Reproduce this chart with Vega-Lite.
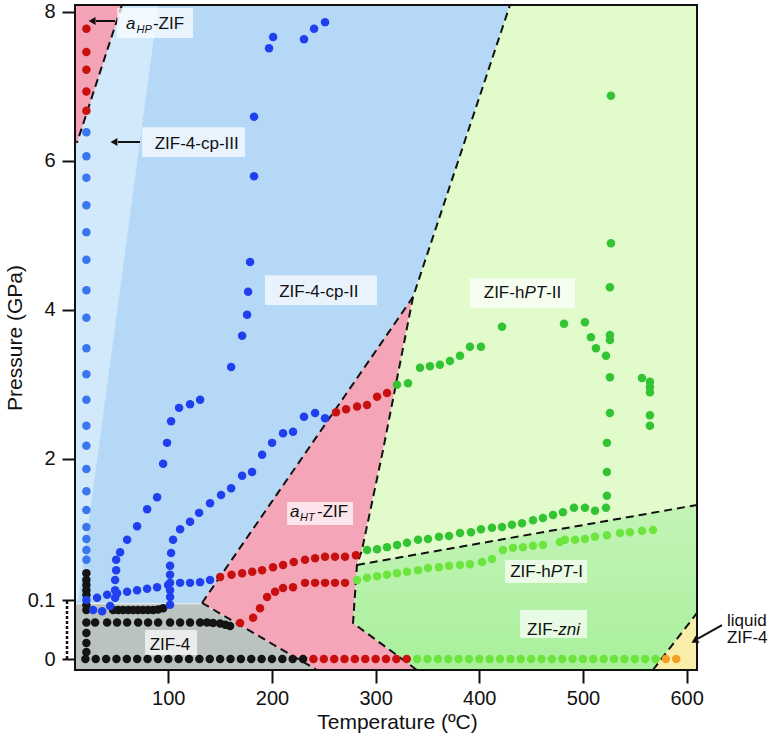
{
  "$schema": "https://vega.github.io/schema/vega-lite/v6.json",
  "width": 622,
  "height": 665,
  "autosize": "none",
  "padding": {"left": 75, "top": 5, "right": 77, "bottom": 71},
  "config": {"view": {"stroke": null}, "font": "Liberation Sans"},
  "datasets": {
    "poly": [
      {"r": "blue", "i": 0, "T": 10, "P": 8.09}, {"r": "blue", "i": 1, "T": 429.6, "P": 8.09}, {"r": "blue", "i": 2, "T": 336.1, "P": 4.17}, {"r": "blue", "i": 3, "T": 132.5, "P": 0.095}, {"r": "blue", "i": 4, "T": 10, "P": 0.095},
      {"r": "strip", "i": 0, "T": 10, "P": 8.09}, {"r": "strip", "i": 1, "T": 90.1, "P": 8.09}, {"r": "strip", "i": 2, "T": 12.9, "P": 0.1}, {"r": "strip", "i": 3, "T": 10, "P": 0.1},
      {"r": "ahp", "i": 0, "T": 10, "P": 8.09}, {"r": "ahp", "i": 1, "T": 55.3, "P": 8.09}, {"r": "ahp", "i": 2, "T": 11.9, "P": 6.24}, {"r": "ahp", "i": 3, "T": 10, "P": 6.2},
      {"r": "gray", "i": 0, "T": 10, "P": 0.093}, {"r": "gray", "i": 1, "T": 132.5, "P": 0.093}, {"r": "gray", "i": 2, "T": 243.4, "P": -0.0186}, {"r": "gray", "i": 3, "T": 10, "P": -0.0186},
      {"r": "pink", "i": 0, "T": 132.5, "P": 0.095}, {"r": "pink", "i": 1, "T": 336.1, "P": 4.17}, {"r": "pink", "i": 2, "T": 307.1, "P": 2.11}, {"r": "pink", "i": 3, "T": 286.8, "P": 0.77}, {"r": "pink", "i": 4, "T": 282.0, "P": 0.57}, {"r": "pink", "i": 5, "T": 278.2, "P": 0.061}, {"r": "pink", "i": 6, "T": 339.9, "P": -0.0186}, {"r": "pink", "i": 7, "T": 243.4, "P": -0.0186},
      {"r": "lgreen", "i": 0, "T": 429.6, "P": 8.09}, {"r": "lgreen", "i": 1, "T": 610, "P": 8.09}, {"r": "lgreen", "i": 2, "T": 610, "P": 1.376}, {"r": "lgreen", "i": 3, "T": 282.0, "P": 0.57}, {"r": "lgreen", "i": 4, "T": 286.8, "P": 0.77}, {"r": "lgreen", "i": 5, "T": 307.1, "P": 2.11}, {"r": "lgreen", "i": 6, "T": 336.1, "P": 4.17},
      {"r": "mgreen", "i": 0, "T": 282.0, "P": 0.57}, {"r": "mgreen", "i": 1, "T": 610, "P": 1.376}, {"r": "mgreen", "i": 2, "T": 610, "P": 0.078}, {"r": "mgreen", "i": 3, "T": 567.5, "P": -0.0186}, {"r": "mgreen", "i": 4, "T": 339.9, "P": -0.0186}, {"r": "mgreen", "i": 5, "T": 278.2, "P": 0.061},
      {"r": "yellow", "i": 0, "T": 567.5, "P": -0.0186}, {"r": "yellow", "i": 1, "T": 610, "P": 0.078}, {"r": "yellow", "i": 2, "T": 610, "P": -0.0186}
    ],
    "dash": [
      {"id": 1, "i": 0, "T": 55.3, "P": 8.09}, {"id": 1, "i": 1, "T": 11.9, "P": 6.24},
      {"id": 2, "i": 0, "T": 132.5, "P": 0.095}, {"id": 2, "i": 1, "T": 243.4, "P": -0.0186},
      {"id": 3, "i": 0, "T": 132.5, "P": 0.095}, {"id": 3, "i": 1, "T": 336.1, "P": 4.17}, {"id": 3, "i": 2, "T": 429.6, "P": 8.09},
      {"id": 4, "i": 0, "T": 336.1, "P": 4.17}, {"id": 4, "i": 1, "T": 307.1, "P": 2.11}, {"id": 4, "i": 2, "T": 286.8, "P": 0.77}, {"id": 4, "i": 3, "T": 282.0, "P": 0.57}, {"id": 4, "i": 4, "T": 278.2, "P": 0.061}, {"id": 4, "i": 5, "T": 339.9, "P": -0.0186},
      {"id": 5, "i": 0, "T": 282.0, "P": 0.57}, {"id": 5, "i": 1, "T": 610, "P": 1.376},
      {"id": 6, "i": 0, "T": 567.5, "P": -0.0186}, {"id": 6, "i": 1, "T": 610, "P": 0.078}
    ],
    "boxes": [
      {"T": 50.6, "T2": 123.9, "P": 8.05, "P2": 7.647},
      {"T": 74.7, "T2": 174.1, "P": 6.45, "P2": 6.05},
      {"T": 193.3, "T2": 301.3, "P": 4.46, "P2": 4.06},
      {"T": 391, "T2": 492.3, "P": 4.42, "P2": 4.02},
      {"T": 214.6, "T2": 278.2, "P": 1.416, "P2": 1.107},
      {"T": 424.8, "T2": 503.9, "P": 0.637, "P2": 0.328},
      {"T": 439.2, "T2": 503.9, "P": 0.083, "P2": 0.0356},
      {"T": 77.6, "T2": 127.8, "P": 0.049, "P2": 0.0068}
    ],
    "arr": [
      {"T": 48.6, "T2": 30.3, "P": 7.875, "P2": 7.875},
      {"T": 72.7, "T2": 51.5, "P": 6.25, "P2": 6.25},
      {"T": 634.1, "T2": 610.9, "P": 0.0576, "P2": 0.0347}
    ],
    "heads": [
      {"T": 26.5, "P": 7.875, "sh": "triangle-left", "ang": 0},
      {"T": 47.6, "P": 6.25, "sh": "triangle-left", "ang": 0},
      {"T": 607.6, "P": 0.0305, "sh": "triangle-up", "ang": 241}
    ],
    "brk": [{"T": 2.3, "T2": 2.3, "P": 0, "P2": 0.1}],
    "frame": [{"T": 10, "T2": 610, "P": -0.0186, "P2": 8.09}],
    "txt": [
      {"t": "ZIF-4-cp-III", "T": 127.4, "P": 6.156, "fs": 17, "a": "c", "it": 0},
      {"t": "ZIF-4-cp-II", "T": 245.2, "P": 4.173, "fs": 17, "a": "c", "it": 0},
      {"t": "ZIF-4", "T": 101.6, "P": 0.0153, "fs": 17, "a": "c", "it": 0},
      {"t": "ZIF-h", "T": 404.3, "P": 4.155, "fs": 17, "a": "l", "it": 0},
      {"t": "-II", "T": 464.4, "P": 4.155, "fs": 17, "a": "l", "it": 0},
      {"t": "ZIF-h", "T": 429.8, "P": 0.409, "fs": 17, "a": "l", "it": 0},
      {"t": "-I", "T": 489.9, "P": 0.409, "fs": 17, "a": "l", "it": 0},
      {"t": "ZIF-", "T": 446.1, "P": 0.0407, "fs": 17, "a": "l", "it": 0},
      {"t": "-ZIF", "T": 85.2, "P": 7.774, "fs": 17, "a": "l", "it": 0},
      {"t": "-ZIF", "T": 243.5, "P": 1.2145, "fs": 17, "a": "l", "it": 0},
      {"t": "liquid", "T": 638.9, "P": 0.056, "fs": 17, "a": "l", "it": 0},
      {"t": "ZIF-4", "T": 638.9, "P": 0.027, "fs": 17, "a": "l", "it": 0},
      {"t": "PT", "T": 443.5, "P": 4.155, "fs": 17, "a": "l", "it": 1},
      {"t": "PT", "T": 469.0, "P": 0.409, "fs": 17, "a": "l", "it": 1},
      {"t": "zni", "T": 476.2, "P": 0.0407, "fs": 17, "a": "l", "it": 1},
      {"t": "a", "T": 59.2, "P": 7.774, "fs": 17, "a": "l", "it": 1},
      {"t": "HP", "T": 69.3, "P": 7.713, "fs": 11, "a": "l", "it": 1},
      {"t": "a", "T": 217.4, "P": 1.2145, "fs": 17, "a": "l", "it": 1},
      {"t": "HT", "T": 227.0, "P": 1.161, "fs": 11, "a": "l", "it": 1}
    ],
    "pts": [
      {"s": "k", "T": 20, "P": 0}, {"s": "k", "T": 30, "P": 0}, {"s": "k", "T": 40, "P": 0}, {"s": "k", "T": 50, "P": 0}, {"s": "k", "T": 60, "P": 0}, {"s": "k", "T": 70, "P": 0}, {"s": "k", "T": 80, "P": 0}, {"s": "k", "T": 90, "P": 0}, {"s": "k", "T": 100, "P": 0}, {"s": "k", "T": 110, "P": 0}, {"s": "k", "T": 120, "P": 0}, {"s": "k", "T": 130, "P": 0}, {"s": "k", "T": 140, "P": 0}, {"s": "k", "T": 150, "P": 0}, {"s": "k", "T": 160, "P": 0}, {"s": "k", "T": 170, "P": 0}, {"s": "k", "T": 180, "P": 0}, {"s": "k", "T": 190, "P": 0}, {"s": "k", "T": 200, "P": 0}, {"s": "k", "T": 210, "P": 0}, {"s": "k", "T": 220, "P": 0}, {"s": "k", "T": 230, "P": 0},
      {"s": "r", "T": 240, "P": 0}, {"s": "r", "T": 250, "P": 0}, {"s": "r", "T": 260, "P": 0}, {"s": "r", "T": 270, "P": 0}, {"s": "r", "T": 280, "P": 0}, {"s": "r", "T": 290, "P": 0}, {"s": "r", "T": 300, "P": 0}, {"s": "r", "T": 310, "P": 0}, {"s": "r", "T": 320, "P": 0}, {"s": "r", "T": 330, "P": 0},
      {"s": "l", "T": 340, "P": 0}, {"s": "l", "T": 350, "P": 0}, {"s": "l", "T": 360, "P": 0}, {"s": "l", "T": 370, "P": 0}, {"s": "l", "T": 380, "P": 0}, {"s": "l", "T": 390, "P": 0}, {"s": "l", "T": 400, "P": 0}, {"s": "l", "T": 410, "P": 0}, {"s": "l", "T": 420, "P": 0}, {"s": "l", "T": 430, "P": 0}, {"s": "l", "T": 440, "P": 0}, {"s": "l", "T": 450, "P": 0}, {"s": "l", "T": 460, "P": 0}, {"s": "l", "T": 470, "P": 0}, {"s": "l", "T": 480, "P": 0}, {"s": "l", "T": 490, "P": 0}, {"s": "l", "T": 500, "P": 0}, {"s": "l", "T": 510, "P": 0}, {"s": "l", "T": 520, "P": 0}, {"s": "l", "T": 530, "P": 0}, {"s": "l", "T": 540, "P": 0}, {"s": "l", "T": 550, "P": 0}, {"s": "l", "T": 560, "P": 0}, {"s": "l", "T": 570, "P": 0},
      {"s": "o", "T": 580, "P": 0}, {"s": "o", "T": 590, "P": 0},
      {"s": "k", "T": 21, "P": 0.012}, {"s": "k", "T": 21, "P": 0.027}, {"s": "k", "T": 21, "P": 0.044}, {"s": "k", "T": 21, "P": 0.062}, {"s": "k", "T": 21, "P": 0.083}, {"s": "k", "T": 21, "P": 0.0915},
      {"s": "k", "T": 21, "P": 0.17}, {"s": "k", "T": 21, "P": 0.23}, {"s": "k", "T": 21, "P": 0.30}, {"s": "k", "T": 21, "P": 0.37}, {"s": "k", "T": 21, "P": 0.46},
      {"s": "k", "T": 29.4, "P": 0.062}, {"s": "k", "T": 41, "P": 0.062}, {"s": "k", "T": 50.6, "P": 0.062}, {"s": "k", "T": 60.3, "P": 0.062}, {"s": "k", "T": 70.9, "P": 0.062}, {"s": "k", "T": 80.5, "P": 0.062}, {"s": "k", "T": 90.2, "P": 0.062}, {"s": "k", "T": 101.7, "P": 0.062}, {"s": "k", "T": 111.4, "P": 0.062}, {"s": "k", "T": 121, "P": 0.062}, {"s": "k", "T": 130.7, "P": 0.062}, {"s": "k", "T": 137.4, "P": 0.062}, {"s": "k", "T": 143.2, "P": 0.061}, {"s": "k", "T": 150, "P": 0.06}, {"s": "k", "T": 155, "P": 0.058}, {"s": "k", "T": 159.6, "P": 0.056},
      {"s": "k", "T": 46.8, "P": 0.083}, {"s": "k", "T": 51.6, "P": 0.083}, {"s": "k", "T": 56.4, "P": 0.083}, {"s": "k", "T": 61.3, "P": 0.083}, {"s": "k", "T": 66.1, "P": 0.083}, {"s": "k", "T": 70.9, "P": 0.083}, {"s": "k", "T": 75.7, "P": 0.083}, {"s": "k", "T": 80.5, "P": 0.083}, {"s": "k", "T": 85.4, "P": 0.083}, {"s": "k", "T": 90.2, "P": 0.084}, {"s": "k", "T": 95, "P": 0.086},
      {"s": "r", "T": 21, "P": 7.77}, {"s": "r", "T": 21, "P": 7.46}, {"s": "r", "T": 21, "P": 7.22}, {"s": "r", "T": 21, "P": 6.93}, {"s": "r", "T": 21, "P": 6.67},
      {"s": "r", "T": 150, "P": 0.41}, {"s": "r", "T": 161, "P": 0.44}, {"s": "r", "T": 171.2, "P": 0.46}, {"s": "r", "T": 181, "P": 0.48}, {"s": "r", "T": 190.5, "P": 0.50}, {"s": "r", "T": 201, "P": 0.54}, {"s": "r", "T": 210.7, "P": 0.57}, {"s": "r", "T": 221, "P": 0.61}, {"s": "r", "T": 231.9, "P": 0.64}, {"s": "r", "T": 241.6, "P": 0.66}, {"s": "r", "T": 251.2, "P": 0.68}, {"s": "r", "T": 260.8, "P": 0.68}, {"s": "r", "T": 270.5, "P": 0.68}, {"s": "r", "T": 281, "P": 0.70},
      {"s": "r", "T": 169.2, "P": 0.061}, {"s": "r", "T": 181.8, "P": 0.07}, {"s": "r", "T": 188.5, "P": 0.086}, {"s": "r", "T": 195.3, "P": 0.14}, {"s": "r", "T": 203, "P": 0.21}, {"s": "r", "T": 210.7, "P": 0.26}, {"s": "r", "T": 220.3, "P": 0.27}, {"s": "r", "T": 231.9, "P": 0.33}, {"s": "r", "T": 241.6, "P": 0.33}, {"s": "r", "T": 251.2, "P": 0.33}, {"s": "r", "T": 260.8, "P": 0.33}, {"s": "r", "T": 270.5, "P": 0.33},
      {"s": "r", "T": 261.8, "P": 2.62}, {"s": "r", "T": 271.5, "P": 2.66}, {"s": "r", "T": 282.1, "P": 2.70}, {"s": "r", "T": 291.7, "P": 2.72}, {"s": "r", "T": 301.4, "P": 2.83}, {"s": "r", "T": 311, "P": 2.88},
      {"s": "c", "T": 21, "P": 6.38}, {"s": "c", "T": 21, "P": 6.06}, {"s": "c", "T": 21, "P": 5.77}, {"s": "c", "T": 21, "P": 5.40}, {"s": "c", "T": 21, "P": 5.04}, {"s": "c", "T": 21, "P": 4.67}, {"s": "c", "T": 21, "P": 4.26}, {"s": "c", "T": 21, "P": 3.89}, {"s": "c", "T": 21, "P": 3.48}, {"s": "c", "T": 21, "P": 3.13}, {"s": "c", "T": 21, "P": 2.79}, {"s": "c", "T": 21, "P": 2.44}, {"s": "c", "T": 21, "P": 2.17}, {"s": "c", "T": 21, "P": 1.86}, {"s": "c", "T": 21, "P": 1.56}, {"s": "c", "T": 21, "P": 1.31}, {"s": "c", "T": 21, "P": 1.08}, {"s": "c", "T": 21, "P": 0.92}, {"s": "c", "T": 21, "P": 0.77}, {"s": "c", "T": 21, "P": 0.64},
      {"s": "b", "T": 21, "P": 0.10}, {"s": "b", "T": 27.5, "P": 0.083}, {"s": "b", "T": 36.2, "P": 0.081}, {"s": "b", "T": 43.9, "P": 0.09},
      {"s": "b", "T": 31.3, "P": 0.13}, {"s": "b", "T": 41, "P": 0.17}, {"s": "b", "T": 50.6, "P": 0.19}, {"s": "b", "T": 60.3, "P": 0.21}, {"s": "b", "T": 69.9, "P": 0.23}, {"s": "b", "T": 79.6, "P": 0.25}, {"s": "b", "T": 89.2, "P": 0.27}, {"s": "b", "T": 99.8, "P": 0.30}, {"s": "b", "T": 111.4, "P": 0.33}, {"s": "b", "T": 121, "P": 0.33}, {"s": "b", "T": 130.7, "P": 0.34}, {"s": "b", "T": 140.3, "P": 0.37},
      {"s": "b", "T": 48.7, "P": 0.13}, {"s": "b", "T": 48.7, "P": 0.23}, {"s": "b", "T": 48.7, "P": 0.37}, {"s": "b", "T": 49.7, "P": 0.50}, {"s": "b", "T": 49.7, "P": 0.64}, {"s": "b", "T": 53.5, "P": 0.74}, {"s": "b", "T": 60.3, "P": 0.91}, {"s": "b", "T": 69.9, "P": 1.09}, {"s": "b", "T": 79.6, "P": 1.32}, {"s": "b", "T": 89.2, "P": 1.48}, {"s": "b", "T": 95, "P": 1.93}, {"s": "b", "T": 98.8, "P": 2.21}, {"s": "b", "T": 102.7, "P": 2.50}, {"s": "b", "T": 110.4, "P": 2.68}, {"s": "b", "T": 121, "P": 2.73}, {"s": "b", "T": 130.7, "P": 2.79}, {"s": "b", "T": 160.6, "P": 3.23}, {"s": "b", "T": 171.2, "P": 3.65}, {"s": "b", "T": 176, "P": 3.93}, {"s": "b", "T": 177, "P": 4.24}, {"s": "b", "T": 178.9, "P": 4.64}, {"s": "b", "T": 182.7, "P": 5.79}, {"s": "b", "T": 182.7, "P": 6.59}, {"s": "b", "T": 197.2, "P": 7.51}, {"s": "b", "T": 201.1, "P": 7.66}, {"s": "b", "T": 230.9, "P": 7.63}, {"s": "b", "T": 240.6, "P": 7.77}, {"s": "b", "T": 251.2, "P": 7.86},
      {"s": "b", "T": 101.7, "P": 0.092}, {"s": "b", "T": 101.7, "P": 0.14}, {"s": "b", "T": 101.7, "P": 0.23}, {"s": "b", "T": 101.7, "P": 0.33}, {"s": "b", "T": 101.7, "P": 0.44}, {"s": "b", "T": 101.7, "P": 0.56}, {"s": "b", "T": 102.7, "P": 0.73}, {"s": "b", "T": 104.6, "P": 0.91}, {"s": "b", "T": 111.4, "P": 1.05}, {"s": "b", "T": 121, "P": 1.15}, {"s": "b", "T": 129.7, "P": 1.27}, {"s": "b", "T": 140.3, "P": 1.40}, {"s": "b", "T": 150.9, "P": 1.51}, {"s": "b", "T": 160.6, "P": 1.60}, {"s": "b", "T": 171.2, "P": 1.77}, {"s": "b", "T": 180.8, "P": 1.82}, {"s": "b", "T": 190.5, "P": 2.05}, {"s": "b", "T": 200.1, "P": 2.21}, {"s": "b", "T": 210.7, "P": 2.34}, {"s": "b", "T": 220.3, "P": 2.36}, {"s": "b", "T": 230.9, "P": 2.56}, {"s": "b", "T": 241.6, "P": 2.61}, {"s": "b", "T": 251.2, "P": 2.54},
      {"s": "g", "T": 291.7, "P": 0.77}, {"s": "g", "T": 301.4, "P": 0.78}, {"s": "g", "T": 311, "P": 0.81}, {"s": "g", "T": 320.6, "P": 0.84}, {"s": "g", "T": 330.3, "P": 0.87}, {"s": "g", "T": 340.9, "P": 0.91}, {"s": "g", "T": 350.5, "P": 0.92}, {"s": "g", "T": 361.1, "P": 0.95}, {"s": "g", "T": 370.8, "P": 0.96}, {"s": "g", "T": 381.4, "P": 1.00}, {"s": "g", "T": 392, "P": 1.01}, {"s": "g", "T": 401.6, "P": 1.05}, {"s": "g", "T": 412.2, "P": 1.07}, {"s": "g", "T": 421.9, "P": 1.08}, {"s": "g", "T": 431.5, "P": 1.11}, {"s": "g", "T": 441.2, "P": 1.13}, {"s": "g", "T": 451.8, "P": 1.17}, {"s": "g", "T": 461.4, "P": 1.20}, {"s": "g", "T": 471.1, "P": 1.24}, {"s": "g", "T": 480.7, "P": 1.28}, {"s": "g", "T": 491.3, "P": 1.34}, {"s": "g", "T": 501.9, "P": 1.34}, {"s": "g", "T": 511.6, "P": 1.30}, {"s": "g", "T": 522.2, "P": 1.34},
      {"s": "g", "T": 523.1, "P": 1.50}, {"s": "g", "T": 523.1, "P": 1.82}, {"s": "g", "T": 523.1, "P": 2.21}, {"s": "g", "T": 526, "P": 2.61}, {"s": "g", "T": 526, "P": 3.09}, {"s": "g", "T": 526, "P": 3.59}, {"s": "g", "T": 526, "P": 3.66}, {"s": "g", "T": 526, "P": 4.30}, {"s": "g", "T": 527, "P": 4.89}, {"s": "g", "T": 527, "P": 6.87},
      {"s": "g", "T": 320.6, "P": 2.99}, {"s": "g", "T": 331.2, "P": 3.01}, {"s": "g", "T": 342.8, "P": 3.22}, {"s": "g", "T": 352.4, "P": 3.24}, {"s": "g", "T": 362, "P": 3.26}, {"s": "g", "T": 371.7, "P": 3.31}, {"s": "g", "T": 381.4, "P": 3.38}, {"s": "g", "T": 391, "P": 3.50}, {"s": "g", "T": 401.6, "P": 3.50}, {"s": "g", "T": 421.9, "P": 3.77}, {"s": "g", "T": 481.7, "P": 3.81}, {"s": "g", "T": 501.9, "P": 3.83}, {"s": "g", "T": 507.7, "P": 3.63}, {"s": "g", "T": 512.5, "P": 3.48}, {"s": "g", "T": 522.2, "P": 3.38}, {"s": "g", "T": 556.9, "P": 3.08}, {"s": "g", "T": 564.6, "P": 3.03}, {"s": "g", "T": 564.6, "P": 2.96}, {"s": "g", "T": 564.6, "P": 2.89}, {"s": "g", "T": 564.6, "P": 2.58}, {"s": "g", "T": 564.6, "P": 2.44},
      {"s": "l", "T": 282.1, "P": 0.37}, {"s": "l", "T": 291.7, "P": 0.40}, {"s": "l", "T": 301.4, "P": 0.42}, {"s": "l", "T": 311, "P": 0.44}, {"s": "l", "T": 320.6, "P": 0.46}, {"s": "l", "T": 330.3, "P": 0.48}, {"s": "l", "T": 340.9, "P": 0.50}, {"s": "l", "T": 350.5, "P": 0.53}, {"s": "l", "T": 361.1, "P": 0.54}, {"s": "l", "T": 370.8, "P": 0.56}, {"s": "l", "T": 381.4, "P": 0.57}, {"s": "l", "T": 391, "P": 0.58}, {"s": "l", "T": 402.6, "P": 0.61}, {"s": "l", "T": 412.2, "P": 0.65}, {"s": "l", "T": 422.8, "P": 0.77}, {"s": "l", "T": 432.5, "P": 0.80}, {"s": "l", "T": 442.1, "P": 0.81}, {"s": "l", "T": 451.8, "P": 0.83}, {"s": "l", "T": 461.4, "P": 0.84}, {"s": "l", "T": 477.8, "P": 0.88}, {"s": "l", "T": 482.6, "P": 0.91}, {"s": "l", "T": 492.3, "P": 0.91}, {"s": "l", "T": 501.9, "P": 0.92}, {"s": "l", "T": 511.6, "P": 0.95}, {"s": "l", "T": 523.1, "P": 0.97}, {"s": "l", "T": 535.7, "P": 1.00}, {"s": "l", "T": 545.3, "P": 1.01}, {"s": "l", "T": 556.9, "P": 1.03}, {"s": "l", "T": 567.5, "P": 1.04}
    ]
  },
  "encoding": {
    "x": {
      "field": "T", "type": "quantitative", "title": "Temperature (ºC)",
      "scale": {"domain": [10, 610], "nice": false, "zero": false},
      "axis": {"values": [100, 200, 300, 400, 500, 600], "domain": false, "grid": false, "tickSize": 13, "tickWidth": 2, "tickColor": "#111", "labelFontSize": 20, "labelColor": "#111", "labelPadding": 5, "labelFlush": false, "titleFontSize": 21, "titleFontWeight": "normal", "titleColor": "#111", "titleX": 322, "titleY": 58, "titleBaseline": "alphabetic"}
    },
    "y": {
      "field": "P", "type": "quantitative", "title": "Pressure (GPa)",
      "scale": {"domain": [-0.0186, 0.1, 8.09], "range": [665, 595, 0], "nice": false, "zero": false},
      "axis": {"values": [0, 0.1, 2, 4, 6, 8], "format": "~g", "labelExpr": "datum.value == 0 ? '0\u00a0\u00a0\u00a0' : datum.label", "domain": false, "grid": false, "tickSize": 13, "tickWidth": 2, "tickColor": "#111", "labelFontSize": 20, "labelColor": "#111", "labelPadding": 7, "labelFlush": false, "titleFontSize": 21, "titleFontWeight": "normal", "titleColor": "#111", "titlePadding": 2}
    }
  },
  "layer": [
    {"data": {"name": "poly"}, "transform": [{"filter": "datum.r == 'blue'"}], "mark": {"type": "line", "interpolate": "linear-closed", "fill": "#b5d8f7", "stroke": "#b5d8f7", "strokeWidth": 0.5}, "encoding": {"order": {"field": "i", "type": "quantitative"}}},
    {"data": {"name": "poly"}, "transform": [{"filter": "datum.r == 'strip'"}], "mark": {"type": "line", "interpolate": "linear-closed", "fill": "#d2e9fb", "stroke": "#d2e9fb", "strokeWidth": 0.5}, "encoding": {"order": {"field": "i", "type": "quantitative"}}},
    {"data": {"name": "poly"}, "transform": [{"filter": "datum.r == 'ahp'"}], "mark": {"type": "line", "interpolate": "linear-closed", "fill": "#f4a3b6", "stroke": "#f4a3b6", "strokeWidth": 0.5}, "encoding": {"order": {"field": "i", "type": "quantitative"}}},
    {"data": {"name": "poly"}, "transform": [{"filter": "datum.r == 'gray'"}], "mark": {"type": "line", "interpolate": "linear-closed", "fill": "#bac3bf", "stroke": "#bac3bf", "strokeWidth": 0.5}, "encoding": {"order": {"field": "i", "type": "quantitative"}}},
    {"data": {"name": "poly"}, "transform": [{"filter": "datum.r == 'pink'"}], "mark": {"type": "line", "interpolate": "linear-closed", "fill": "#f5a5b8", "stroke": "#f5a5b8", "strokeWidth": 0.5}, "encoding": {"order": {"field": "i", "type": "quantitative"}}},
    {"data": {"name": "poly"}, "transform": [{"filter": "datum.r == 'lgreen'"}], "mark": {"type": "line", "interpolate": "linear-closed", "fill": "#e1fbcb", "stroke": "#e1fbcb", "strokeWidth": 0.5}, "encoding": {"order": {"field": "i", "type": "quantitative"}}},
    {"data": {"name": "poly"}, "transform": [{"filter": "datum.r == 'mgreen'"}], "mark": {"type": "line", "interpolate": "linear-closed", "fill": {"gradient": "linear", "x1": 0, "y1": 0, "x2": 0, "y2": 1, "stops": [{"offset": 0, "color": "#c3f4b6"}, {"offset": 1, "color": "#a9f09c"}]}, "stroke": "#b6f2a8", "strokeWidth": 0.5}, "encoding": {"order": {"field": "i", "type": "quantitative"}}},
    {"data": {"name": "poly"}, "transform": [{"filter": "datum.r == 'yellow'"}], "mark": {"type": "line", "interpolate": "linear-closed", "fill": "#f8eeaa", "stroke": "#f8eeaa", "strokeWidth": 0.5}, "encoding": {"order": {"field": "i", "type": "quantitative"}}},
    {"data": {"name": "dash"}, "mark": {"type": "line", "strokeDash": [8, 5], "strokeWidth": 2, "color": "#111"}, "encoding": {"detail": {"field": "id", "type": "nominal"}, "order": {"field": "i", "type": "quantitative"}}},
    {"data": {"name": "boxes"}, "mark": {"type": "rect", "fill": "white", "opacity": 0.7}, "encoding": {"x2": {"field": "T2"}, "y2": {"field": "P2"}}},
    {"data": {"name": "pts"}, "mark": {"type": "circle", "size": 72, "opacity": 1}, "encoding": {"color": {"field": "s", "type": "nominal", "legend": null, "scale": {"domain": ["k", "r", "b", "c", "g", "l", "o"], "range": ["#141414", "#c8100f", "#2040f0", "#3a76ee", "#33c433", "#6ce63e", "#f5a020"]}}}},
    {"data": {"name": "arr"}, "mark": {"type": "rule", "strokeWidth": 2, "color": "#111"}, "encoding": {"x2": {"field": "T2"}, "y2": {"field": "P2"}}},
    {"data": {"name": "heads"}, "mark": {"type": "point", "filled": true, "size": 64, "color": "#111", "opacity": 1}, "encoding": {"shape": {"field": "sh", "type": "nominal", "scale": null}, "angle": {"field": "ang", "type": "quantitative", "scale": null}}},
    {"data": {"name": "brk"}, "mark": {"type": "rule", "strokeWidth": 2.5, "strokeDash": [3, 2], "color": "#111"}, "encoding": {"x2": {"field": "T2"}, "y2": {"field": "P2"}}},
    {"data": {"name": "txt"}, "transform": [{"filter": "datum.it == 0 && datum.a == 'c'"}], "mark": {"type": "text", "align": "center", "baseline": "alphabetic", "color": "#111", "font": "Liberation Sans"}, "encoding": {"text": {"field": "t"}, "size": {"field": "fs", "type": "quantitative", "scale": null}}},
    {"data": {"name": "txt"}, "transform": [{"filter": "datum.it == 0 && datum.a == 'l'"}], "mark": {"type": "text", "align": "left", "baseline": "alphabetic", "color": "#111", "font": "Liberation Sans"}, "encoding": {"text": {"field": "t"}, "size": {"field": "fs", "type": "quantitative", "scale": null}}},
    {"data": {"name": "txt"}, "transform": [{"filter": "datum.it == 1"}], "mark": {"type": "text", "align": "left", "baseline": "alphabetic", "color": "#111", "font": "Liberation Sans", "fontStyle": "italic"}, "encoding": {"text": {"field": "t"}, "size": {"field": "fs", "type": "quantitative", "scale": null}}},
    {"data": {"name": "frame"}, "mark": {"type": "rect", "fill": null, "fillOpacity": 0, "stroke": "#111", "strokeWidth": 2}, "encoding": {"x2": {"field": "T2"}, "y2": {"field": "P2"}}}
  ]
}
